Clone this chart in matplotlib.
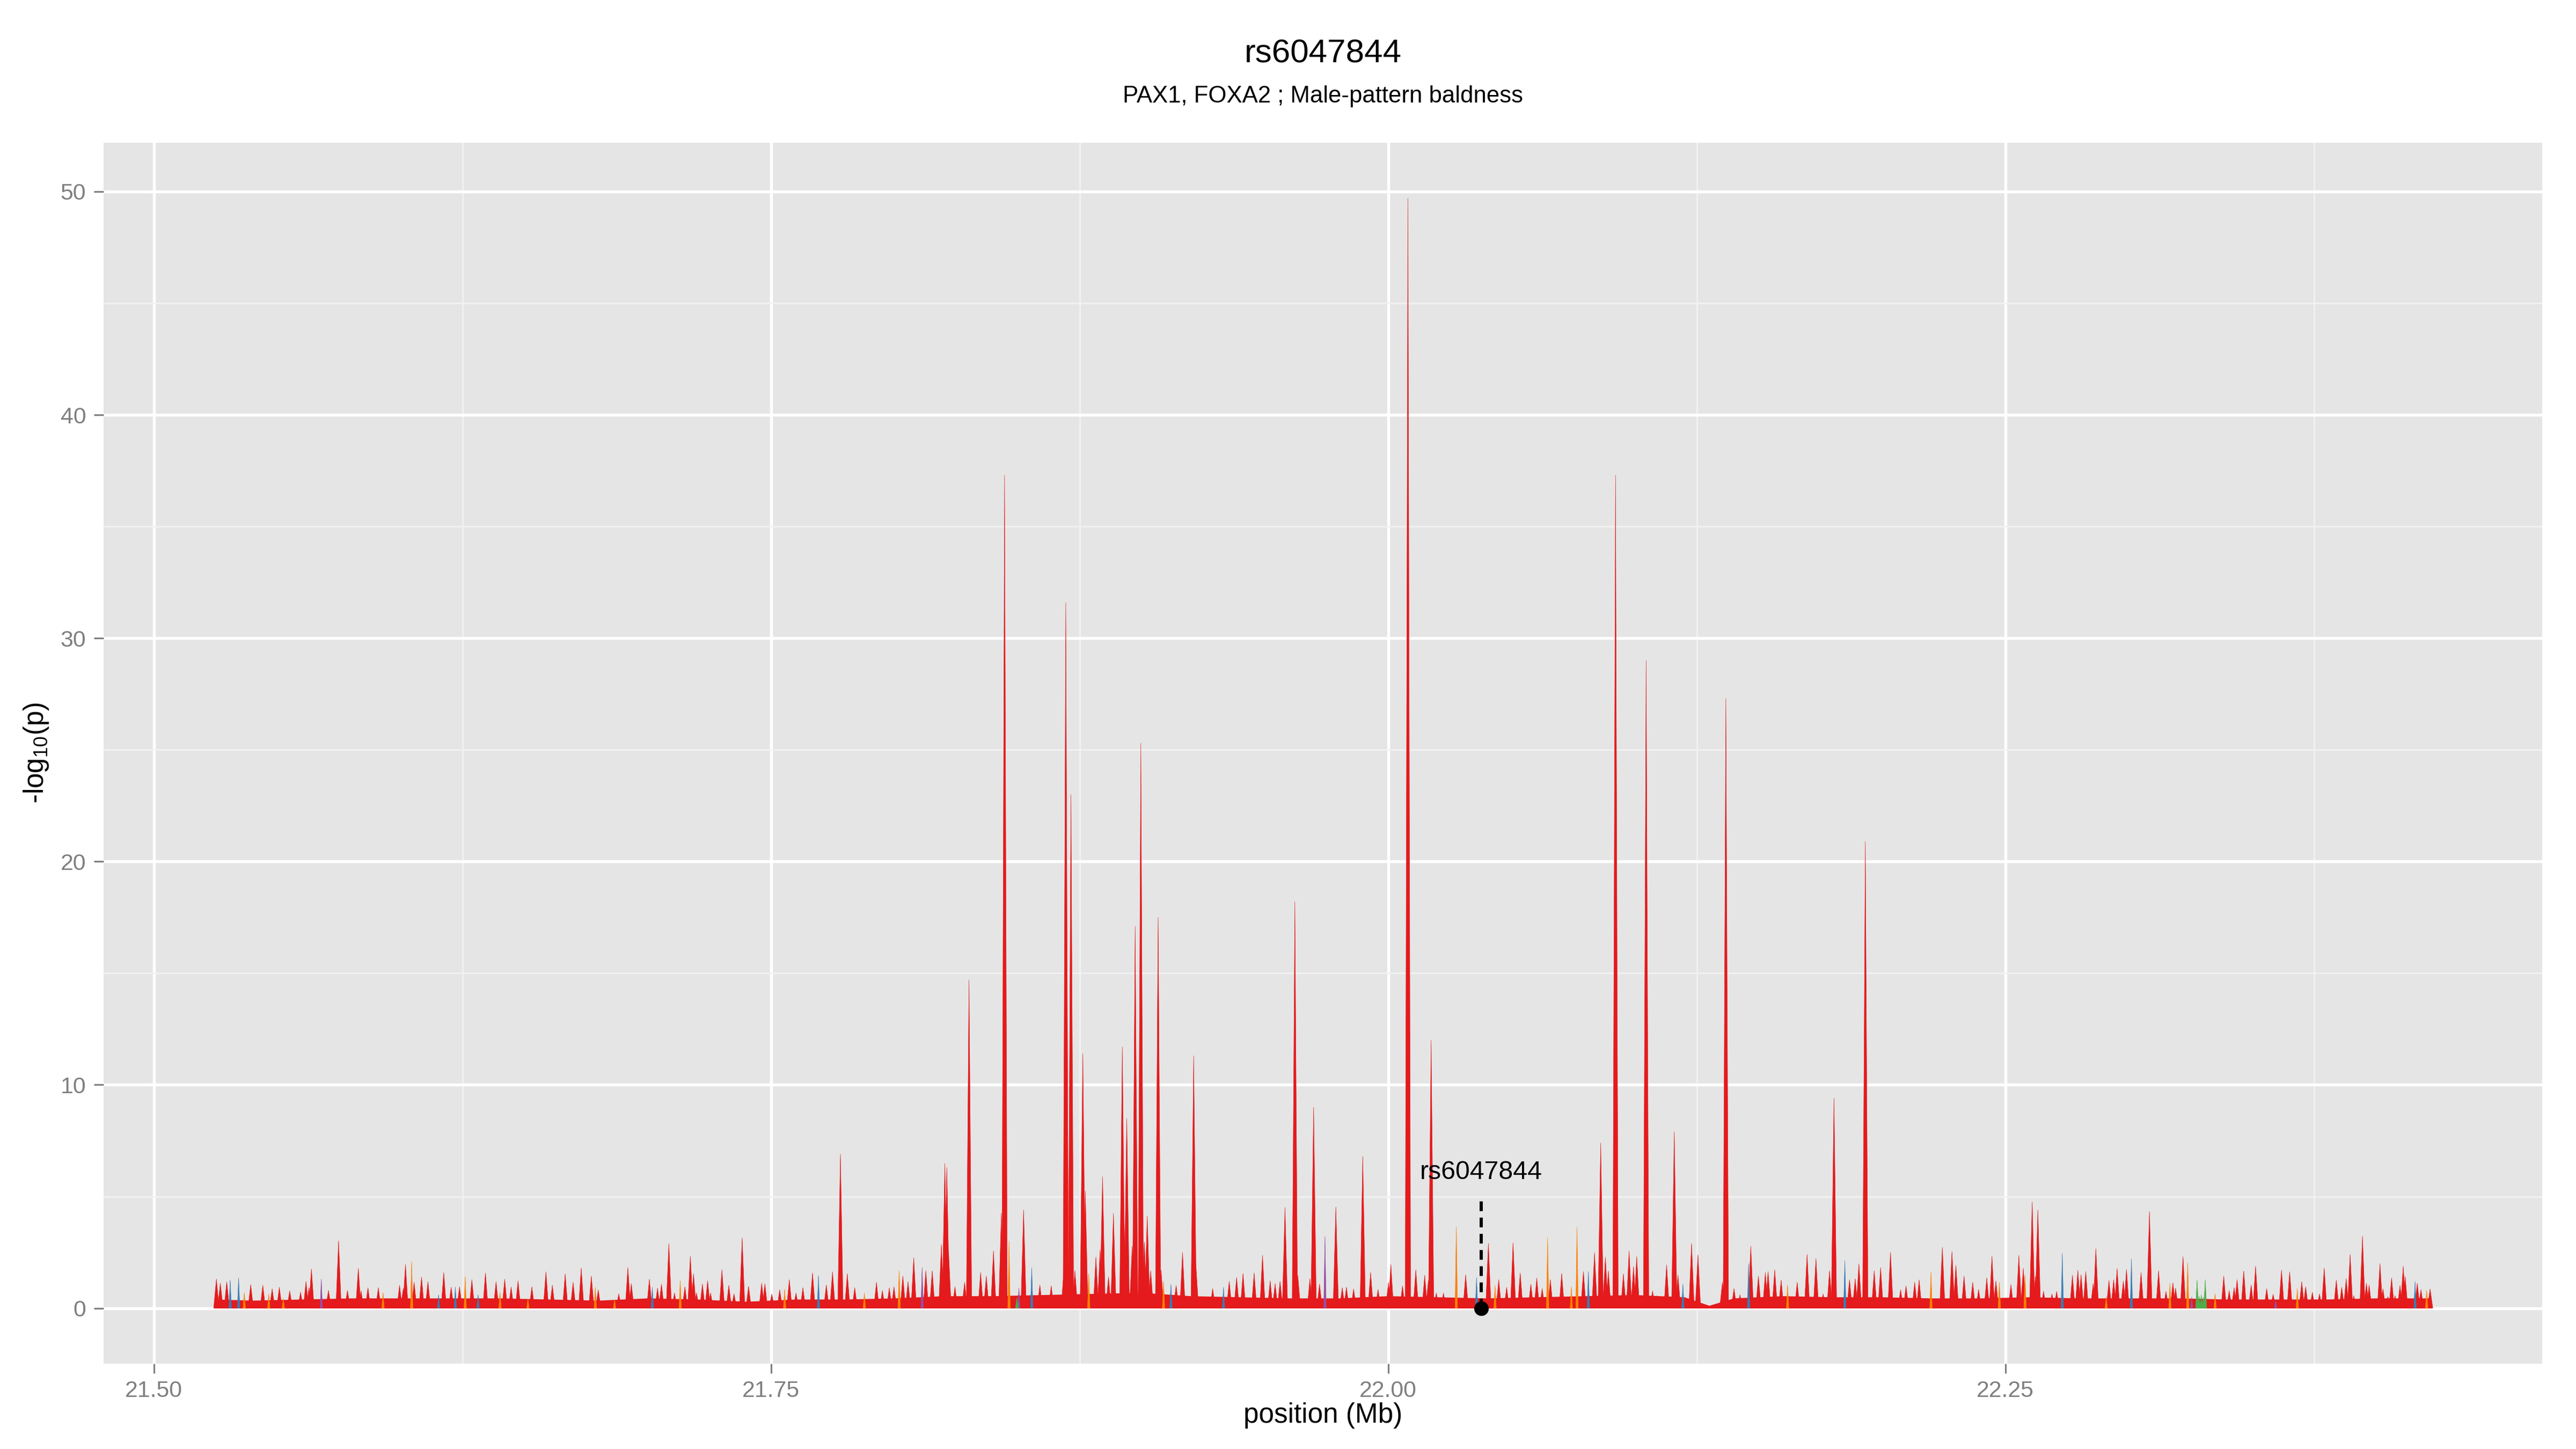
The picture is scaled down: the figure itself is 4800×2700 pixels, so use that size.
import matplotlib
matplotlib.use("Agg")
import matplotlib.pyplot as plt
from matplotlib.collections import PolyCollection
from matplotlib.ticker import MultipleLocator, FixedLocator

plt.rcParams["font.family"] = ["Liberation Sans", "DejaVu Sans"]
plt.rcParams["mathtext.fontset"] = "custom"
plt.rcParams["mathtext.rm"] = "Liberation Sans"
plt.rcParams["mathtext.it"] = "Liberation Sans:italic"

# ---- data (position in Mb, -log10(p)) ----
title = "rs6047844"
subtitle = "PAX1, FOXA2 ; Male-pattern baldness"
snp_name = "rs6047844"
snp_pos = 22.0377
snp_lead_top = 5.0

# low-level background of the association track
carpet_pos = [21.5245, 21.54, 21.56, 21.58, 21.60, 21.62, 21.64, 21.66, 21.68, 21.70,
              21.72, 21.74, 21.76, 21.78, 21.80, 21.82, 21.84, 21.86, 21.88, 21.90,
              21.92, 21.94, 21.96, 21.98, 22.00, 22.02, 22.04, 22.06, 22.08, 22.10,
              22.12, 22.13, 22.14, 22.16, 22.18, 22.20, 22.22, 22.24, 22.26, 22.28,
              22.30, 22.32, 22.34, 22.36, 22.38, 22.40, 22.4226]
carpet_val = [0.40, 0.35, 0.40, 0.45, 0.45, 0.45, 0.45, 0.40, 0.35, 0.45,
              0.40, 0.30, 0.40, 0.40, 0.45, 0.55, 0.55, 0.60, 0.65, 0.70,
              0.55, 0.50, 0.45, 0.45, 0.55, 0.50, 0.45, 0.50, 0.55, 0.60,
              0.50, 0.12, 0.45, 0.55, 0.50, 0.50, 0.45, 0.45, 0.50, 0.45,
              0.45, 0.45, 0.40, 0.40, 0.40, 0.45, 0.45]

red_pos = [21.5253, 21.5269, 21.5295, 21.5392, 21.5441, 21.5479, 21.5508, 21.5550, 21.5594, 21.5616,
           21.5628, 21.5638, 21.5707, 21.5748, 21.5784, 21.5828, 21.5839, 21.5867, 21.5909, 21.5995,
           21.6010, 21.6019, 21.6054, 21.6084, 21.6110, 21.6174, 21.6204, 21.6238, 21.6288, 21.6343,
           21.6386, 21.6421, 21.6447, 21.6475, 21.6531, 21.6588, 21.6614, 21.6666, 21.6698, 21.6731,
           21.6772, 21.6800, 21.6883, 21.6920, 21.6934, 21.7007, 21.7040,
           21.7056, 21.7086, 21.7109, 21.7151, 21.7173, 21.7186, 21.7198, 21.7222, 21.7243, 21.7255,
           21.7301, 21.7329, 21.7350, 21.7383, 21.7409, 21.7462, 21.7475, 21.7503, 21.7535, 21.7574,
           21.7601, 21.7629, 21.7668, 21.7724, 21.7749, 21.7781, 21.7809, 21.7839, 21.7927, 21.7951,
           21.7979, 21.7998, 21.8034, 21.8055, 21.8078, 21.8127, 21.8153, 21.8190, 21.8204, 21.8212,
           21.8219, 21.8245, 21.8284, 21.8302, 21.8349, 21.8372, 21.8401, 21.8433, 21.8446, 21.8523,
           21.8589, 21.8635, 21.8686, 21.8694, 21.8715, 21.8731, 21.8763, 21.8773, 21.8816, 21.8843,
           21.8833, 21.8867, 21.8887, 21.8923, 21.8930, 21.8941, 21.8963, 21.8975, 21.8998, 21.9012,
           21.9024, 21.9038, 21.9068, 21.9080, 21.9141, 21.9167, 21.9212, 21.9221, 21.9289, 21.9356,
           21.9386, 21.9412, 21.9457, 21.9491, 21.9522, 21.9542, 21.9562, 21.9582, 21.9622, 21.9634,
           21.9683, 21.9698, 21.9722, 21.9788, 21.9814, 21.9831, 21.9860, 21.9897, 21.9929, 21.9959,
           22.0001, 22.0011, 22.0058, 22.0080, 22.0112, 22.0148, 22.0163, 22.0174, 22.0195, 22.0224,
           22.0314, 22.0406, 22.0448, 22.0480, 22.0506, 22.0535, 22.0578, 22.0602, 22.0624,
           22.0657, 22.0703, 22.0791, 22.0836, 22.0861, 22.0880, 22.0892, 22.0921, 22.0953, 22.0976,
           22.0994, 22.1007, 22.1045, 22.1071, 22.1089, 22.1128, 22.1159, 22.1174, 22.1229, 22.1255,
           22.1354, 22.1368, 22.1401, 22.1425, 22.1469, 22.1500, 22.1528, 22.1539, 22.1566, 22.1592,
           22.1657, 22.1697, 22.1733, 22.1762, 22.1788, 22.1806, 22.1869, 22.1892, 22.1907, 22.1933,
           22.1969, 22.1995, 22.2035, 22.2076, 22.2098, 22.2133, 22.2151, 22.2245, 22.2284, 22.2300,
           22.2333, 22.2368, 22.2392, 22.2425, 22.2446,
           22.2462, 22.2523, 22.2555, 22.2573, 22.2609, 22.2622, 22.2632, 22.2655, 22.2689, 22.2708,
           22.2772, 22.2794, 22.2807, 22.2826, 22.2856, 22.2867, 22.2920, 22.2939, 22.2953, 22.2978,
           22.2991, 22.3050, 22.3084, 22.3121, 22.3151, 22.3179, 22.3190, 22.3220, 22.3385, 22.3407,
           22.3427, 22.3439, 22.3466, 22.3496, 22.3514, 22.3559, 22.3585, 22.3619, 22.3652, 22.3701,
           22.3717, 22.3744, 22.3773, 22.3792, 22.3841, 22.3863, 22.3881, 22.3897, 22.3912, 22.3947,
           22.3963, 22.3974, 22.4018, 22.4030, 22.4050, 22.4065, 22.4079, 22.4099, 22.4112, 22.4120,
           22.4169, 22.4184, 22.4221]
red_val = [1.31, 1.12, 1.18, 1.06, 1.03, 0.87, 0.94, 0.78, 0.72, 1.20,
           0.92, 1.76, 0.80, 3.02, 0.80, 1.78, 0.78, 0.92, 0.92, 1.03,
           0.88, 1.96, 1.16, 1.40, 1.19, 1.60, 0.94, 0.96, 1.28, 1.58,
           1.19, 1.30, 0.95, 1.23, 0.96, 1.63, 1.03, 1.54, 1.16, 1.80,
           1.44, 0.82, 0.64, 1.82, 1.10, 1.30, 0.90,
           1.08, 2.89, 0.68, 0.96, 2.33, 1.54, 0.68, 1.08, 1.23, 0.68,
           1.72, 1.03, 0.64, 3.15, 0.98, 1.12, 1.10, 0.64, 0.83, 1.28,
           0.68, 0.92, 1.58, 1.04, 1.63, 6.90, 1.55, 0.92, 1.16, 0.79,
           0.91, 0.96, 1.44, 1.19, 2.26, 1.68, 1.68, 2.85, 6.48, 6.30,
           2.54, 0.96, 1.16, 14.7, 1.60, 1.44, 2.57, 4.27, 37.3, 4.41,
           1.04, 1.00, 1.64, 31.6, 23.0, 1.68, 11.4, 5.25, 2.29, 5.89,
           2.60, 1.40, 4.25, 11.7, 3.93, 8.5, 2.77, 17.1, 25.3, 2.97,
           4.13, 1.68, 17.5, 1.71, 1.02, 2.50, 11.3, 1.96, 0.88, 1.20,
           1.38, 1.56, 1.58, 2.37, 1.23, 1.10, 1.20, 4.51, 18.2, 1.46,
           1.32, 9.0, 1.08, 4.53, 0.92, 0.94, 0.86, 6.8, 1.60, 0.84,
           1.16, 1.96, 1.00, 49.7, 1.72, 1.48, 1.24, 12.0, 0.68, 0.68,
           1.50, 2.91, 1.28, 0.94, 2.93, 1.58, 1.08, 1.35, 0.88,
           1.28, 1.56, 1.64, 2.49, 7.4, 2.29, 1.67, 37.3, 1.54, 2.56,
           1.87, 2.31, 29.0, 0.78, 0.56, 1.94, 7.9, 1.48, 2.90, 2.39,
           1.16, 27.3, 0.88, 0.60, 2.77, 1.44, 1.60, 1.64, 1.72, 1.26,
           1.16, 2.41, 2.22, 0.64, 1.68, 9.4, 1.28, 1.32, 1.99, 20.9,
           1.68, 1.82, 2.50, 0.83, 1.00, 1.16, 1.27, 2.73, 2.54, 1.92,
           1.44, 1.16, 0.84, 1.36, 2.33,
           1.22, 1.06, 2.37, 1.79, 4.76, 1.42, 4.40, 0.76, 0.64, 0.75,
           1.48, 1.70, 1.50, 1.64, 1.11, 2.67, 1.24, 1.28, 1.78, 1.22,
           1.74, 1.60, 4.33, 1.68, 0.75, 1.14, 0.90, 2.31, 1.44, 0.78,
           0.92, 1.28, 1.67, 1.04, 1.88, 0.88, 0.62, 1.71, 1.63, 1.19,
           0.96, 0.71, 0.64, 1.80, 1.26, 0.94, 1.32, 2.41, 0.56, 3.23,
           1.12, 1.04, 2.00, 0.87, 0.52, 1.36, 0.56, 1.02, 1.88, 1.42,
           1.12, 0.83, 0.86]

orange_pos = [21.5366, 21.5465, 21.5524, 21.5928, 21.6044, 21.6261, 21.6402, 21.6515, 21.6788, 21.6866,
              21.7132, 21.7555, 21.7878, 21.8019, 21.8464, 21.8787, 21.9090, 22.0276, 22.0433, 22.0646,
              22.0742, 22.0765, 22.1618, 22.2199, 22.2476, 22.2580, 22.2909, 22.3167, 22.3239, 22.3350,
              22.3683, 22.4207]
orange_val = [0.70, 0.63, 0.43, 0.70, 2.09, 1.42, 0.70, 0.43, 0.94, 0.40,
              1.24, 0.86, 0.68, 1.68, 3.01, 1.55, 1.20, 3.65, 1.02, 3.15,
              0.96, 3.62, 1.04, 1.63, 1.16, 1.48, 0.50, 1.12, 2.04, 0.65,
              0.88, 0.80]

blue_pos = [21.5309, 21.5343, 21.6153, 21.6221, 21.6313, 21.7019, 21.7692, 21.8556, 21.9120, 21.9333,
            22.0358, 22.0811, 22.1194, 22.1460, 22.1850, 22.2731, 22.3011, 22.4160]
blue_val = [1.26, 1.36, 0.60, 0.95, 0.60, 0.94, 1.46, 1.82, 1.07, 0.94,
            1.38, 1.64, 1.08, 2.00, 2.13, 2.46, 2.21, 1.20]

purple_pos = [21.5678, 21.8112, 21.8504, 21.9744, 22.3255, 22.3595]
purple_val = [1.31, 1.82, 0.91, 3.22, 0.50, 0.36]

green_pos = [21.8496, 22.3277, 22.3285, 22.3294, 22.3302, 22.3310]
green_val = [0.48, 1.26, 0.55, 0.60, 0.50, 1.28]

# Set1-like LD colours, (positions, values, colour, spike half-width in Mb)
series = [
    (red_pos, red_val, "#E41A1C", 0.0011),
    (orange_pos, orange_val, "#FF7F00", 0.0005),
    (blue_pos, blue_val, "#377EB8", 0.0005),
    (purple_pos, purple_val, "#984EA3", 0.0005),
    (green_pos, green_val, "#4DAF4A", 0.0006),
]

# ---- figure ----
W, H = 4800, 2700
fig = plt.figure(figsize=(16, 9), dpi=300)
fig.patch.set_facecolor("white")
ax = fig.add_axes([193 / W, (H - 2541) / H, (4737 - 193) / W, (2541 - 266) / H])
ax.set_facecolor("#E5E5E5")
for s in ax.spines.values():
    s.set_visible(False)

ax.fill_between(carpet_pos, 0, carpet_val, color="#E41A1C", lw=0, zorder=2)
for pos, val, col, hw in series:
    tris = [[(p - hw, 0), (p, v), (p + hw, 0)] for p, v in zip(pos, val)]
    pc = PolyCollection(tris, facecolors=col, edgecolors=col, linewidths=0.15, zorder=3)
    ax.add_collection(pc)

# annotated SNP
ax.plot([snp_pos, snp_pos], [0, snp_lead_top], color="black", lw=1.45,
        dashes=(3, 2), zorder=5)
ax.plot([snp_pos], [0], "o", color="black", ms=5.5, zorder=6, clip_on=False)
ax.text(snp_pos, 5.77, snp_name, ha="center", va="baseline", fontsize=11.6,
        color="black", zorder=6)

# scales, ggplot-style 5% expansion
all_pos = carpet_pos + red_pos
x0, x1 = min(all_pos), max(all_pos)
ymax = max(red_val)
ax.set_xlim(x0 - 0.05 * (x1 - x0), x1 + 0.05 * (x1 - x0))
ax.set_ylim(-0.05 * ymax, ymax * 1.05)

ax.xaxis.set_major_locator(FixedLocator([21.50, 21.75, 22.00, 22.25]))
ax.xaxis.set_minor_locator(FixedLocator([21.625, 21.875, 22.125, 22.375]))
ax.set_xticklabels(["21.50", "21.75", "22.00", "22.25"])
ax.yaxis.set_major_locator(MultipleLocator(10))
ax.yaxis.set_minor_locator(MultipleLocator(5))

ax.grid(which="major", color="white", lw=1.3, zorder=0)
ax.grid(which="minor", color="#F2F2F2", lw=0.65, zorder=0)
ax.set_axisbelow(True)

ax.tick_params(which="major", colors="#7F7F7F", labelsize=10.3, length=4.25, width=0.75)
ax.tick_params(axis="x", which="major", pad=3.1)
ax.tick_params(axis="y", which="major", pad=3.6)
ax.tick_params(which="minor", length=0)

# titles and axis labels
fig.text(2465 / W, 1 - 101 / H, title, ha="center", va="center", fontsize=14.9)
fig.text(2465 / W, 1 - 180 / H, subtitle, ha="center", va="center", fontsize=10.5)
fig.text(2465 / W, 1 - 2638 / H, "position (Mb)", ha="center", va="center", fontsize=12.3)
fig.text(67 / W, 1 - 1403 / H, r"-log$_{10}$(p)", ha="center", va="center",
         rotation=90, fontsize=12.3)

fig.savefig("out.png", dpi=300, facecolor="white")
plt.close(fig)
